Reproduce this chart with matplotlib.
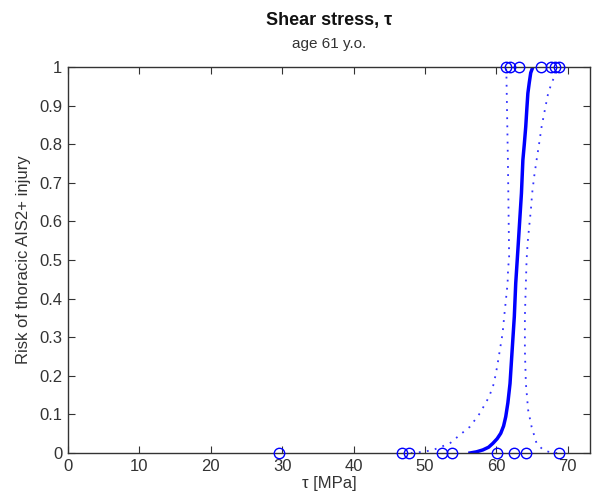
import matplotlib
matplotlib.use("Agg")
import matplotlib.pyplot as plt

plt.rcParams['font.family'] = ['Liberation Sans', 'DejaVu Sans']

# observed data (non-injured at 0, injured at 1)
x_zero = [29.6, 46.8, 47.7, 52.4, 53.8, 60.1, 62.5, 64.1, 68.7]
x_one = [61.3, 61.95, 63.1, 66.2, 67.7, 68.2, 68.8]

# fitted risk curve
fit_x = [56.3, 57.2, 58.1, 58.9, 59.5, 60.1, 60.6, 61.0, 61.3, 61.6, 61.9, 62.2, 62.5, 62.7, 63.0, 63.25, 63.5, 63.7, 63.9, 64.1, 64.25, 64.4, 64.6, 64.8, 65.1]
fit_p = [0.0, 0.003, 0.008, 0.015, 0.025, 0.037, 0.051, 0.07, 0.094, 0.13, 0.18, 0.267, 0.353, 0.44, 0.526, 0.6, 0.673, 0.759, 0.80, 0.845, 0.89, 0.932, 0.96, 0.985, 1.0]

# confidence bands
lo_x = [48.0, 49.74, 51.14, 53.48, 54.88, 56.28, 57.68, 58.98, 59.64, 60.10, 60.48, 60.86, 61.08, 61.32, 61.56, 61.64, 61.78, 61.6, 61.4, 61.35]
lo_p = [0.0, 0.003, 0.008, 0.025, 0.047, 0.068, 0.103, 0.146, 0.18, 0.224, 0.267, 0.31, 0.353, 0.396, 0.44, 0.483, 0.5, 0.76, 0.975, 1.0]
hi_x = [68.5, 67.48, 66.54, 65.62, 64.92, 64.44, 64.12, 63.98, 63.98, 64.12, 64.22, 64.36, 64.58, 64.82, 65.0, 65.28, 65.62, 65.98, 66.32, 66.78, 67.24, 67.72, 68.32, 68.5]
hi_p = [0.0, 0.002, 0.008, 0.025, 0.068, 0.111, 0.18, 0.267, 0.353, 0.44, 0.5, 0.543, 0.586, 0.63, 0.673, 0.716, 0.759, 0.802, 0.845, 0.889, 0.932, 0.958, 0.984, 0.997]

fig = plt.figure(figsize=(5.94, 5.04), dpi=100)
ax = fig.add_axes([68/594, 1-453/504, 522/594, 386/504])

blue = '#0000ff'
dot = (0, (1.0, 3.5))
ax.plot(lo_x, lo_p, linestyle=dot, color='#3333ff', lw=1.3)
ax.plot(hi_x, hi_p, linestyle=dot, color='#3333ff', lw=1.3)
ax.plot(fit_x, fit_p, '-', color=blue, lw=2.5)
ax.plot(x_zero, [0]*len(x_zero), 'o', mfc='none', mec=blue, ms=7.5, mew=1.0, clip_on=False, zorder=5)
ax.plot(x_one, [1]*len(x_one), 'o', mfc='none', mec=blue, ms=7.5, mew=1.0, clip_on=False, zorder=5)

ax.set_xlim(0, 73.1)
ax.set_ylim(0, 1)
ax.set_xticks([0, 10, 20, 30, 40, 50, 60, 70])
ax.set_yticks([0, 0.1, 0.2, 0.3, 0.4, 0.5, 0.6, 0.7, 0.8, 0.9, 1])
ax.set_yticklabels(['0', '0.1', '0.2', '0.3', '0.4', '0.5', '0.6', '0.7', '0.8', '0.9', '1'])
ax.tick_params(direction='in', top=True, right=True, labelsize=12, length=5, width=0.8, colors='#333333', labelcolor='#333333', pad=4)
for s in ax.spines.values():
    s.set_color('#333333')
    s.set_linewidth(1.0)

ax.set_xlabel('τ [MPa]', fontsize=12, color='#333333', labelpad=2)
ax.set_ylabel('Risk of thoracic AIS2+ injury', fontsize=12, color='#333333', labelpad=6)
fig.text((68+590)/2/594, 1-20/504, 'Shear stress, τ', ha='center', va='center', fontsize=13, fontweight='bold', color='#111111')
fig.text((68+590)/2/594, 1-44/504, 'age 61 y.o.', ha='center', va='center', fontsize=11, color='#333333')

fig.savefig('out.png', dpi=100)
